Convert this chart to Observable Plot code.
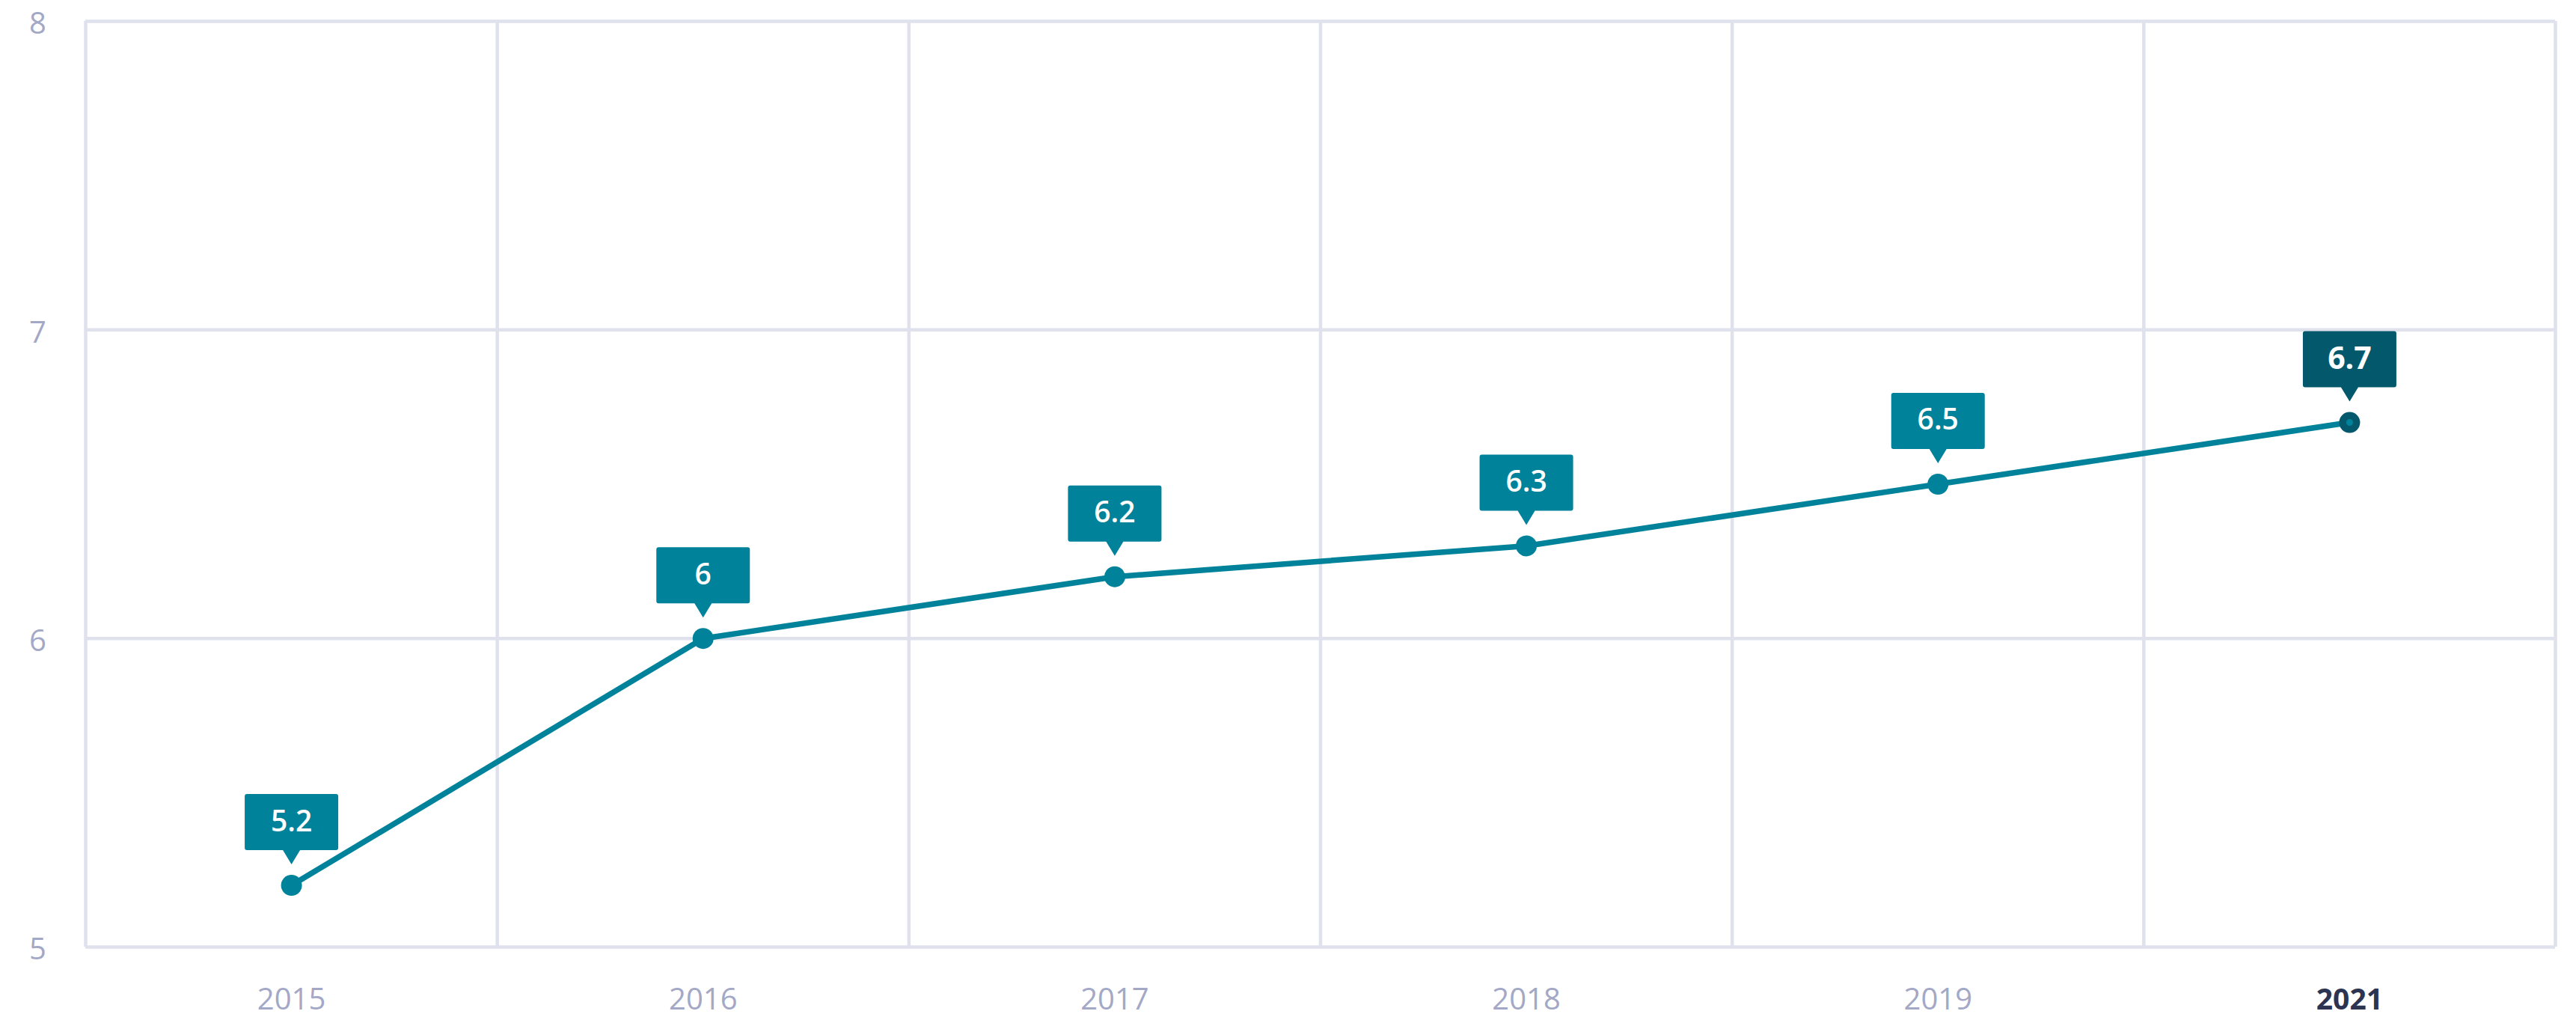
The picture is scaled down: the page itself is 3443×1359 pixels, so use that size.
<!DOCTYPE html>
<html>
<head>
<meta charset="utf-8">
<script src="https://cdn.jsdelivr.net/npm/d3@7"></script>
<script src="https://cdn.jsdelivr.net/npm/@observablehq/plot@0.6"></script>
<style>
  html, body { margin: 0; padding: 0; background: #ffffff; }
  #chart svg { display: block; font-family: "Open Sans", sans-serif; }
</style>
</head>
<body>
<div id="chart"></div>
<script>
const years = ["2015", "2016", "2017", "2018", "2019", "2021"];
const values = [5.2, 6, 6.2, 6.3, 6.5, 6.7];
const yTicks = [5, 6, 7, 8];
const highlightYear = "2021";

const TEAL = "#00829a";
const DARK = "#03596b";
const GRID = "#dfe1ec";
const LABEL = "#a3a8c6";

const data = years.map((year, i) => ({ i, year, value: values[i], hl: year === highlightYear }));
const boundaries = d3.range(-0.5, years.length, 1);

// callout shape drawn relative to the point
const callout = {
  draw(ctx) {
    const w = 62.5, top = -122, bot = -47, r = 3, tw = 11.5, tip = -28;
    ctx.moveTo(-w + r, top);
    ctx.lineTo(w - r, top);
    ctx.quadraticCurveTo(w, top, w, top + r);
    ctx.lineTo(w, bot - r);
    ctx.quadraticCurveTo(w, bot, w - r, bot);
    ctx.lineTo(tw, bot);
    ctx.lineTo(0, tip);
    ctx.lineTo(-tw, bot);
    ctx.lineTo(-w + r, bot);
    ctx.quadraticCurveTo(-w, bot, -w, bot - r);
    ctx.lineTo(-w, top + r);
    ctx.quadraticCurveTo(-w, top, -w + r, top);
    ctx.closePath();
  }
};

const chart = Plot.plot({
  width: 3443,
  height: 1359,
  marginLeft: 114,
  marginRight: 28,
  marginTop: 28,
  marginBottom: 94,
  x: { domain: [-0.5, years.length - 0.5], axis: null },
  y: { domain: [yTicks[0], yTicks[yTicks.length - 1]], axis: null },
  marks: [
    Plot.ruleY(yTicks, { stroke: GRID, strokeWidth: 4.5 }),
    Plot.ruleX(boundaries, { stroke: GRID, strokeWidth: 4.5 }),
    Plot.text(yTicks, { x: -0.5, y: d => d, dx: -64, dy: 4, text: d => String(d), fill: LABEL, fontSize: 40, textAnchor: "middle" }),
    Plot.text(data.filter(d => !d.hl), { x: "i", y: yTicks[0], dy: 71, text: "year", fill: LABEL, fontSize: 40 }),
    Plot.text(data.filter(d => d.hl), { x: "i", y: yTicks[0], dy: 71, text: "year", fill: "#2d3452", fontSize: 39, fontWeight: 700 }),
    Plot.line(data, { x: "i", y: "value", stroke: TEAL, strokeWidth: 7.5 }),
    Plot.dot(data.filter(d => !d.hl), { x: "i", y: "value", r: 14, fill: TEAL }),
    Plot.dot(data.filter(d => d.hl), { x: "i", y: "value", r: 14, fill: DARK }),
    Plot.dot(data.filter(d => d.hl), { x: "i", y: "value", r: 4.5, fill: TEAL }),
    Plot.dot(data.filter(d => !d.hl), { x: "i", y: "value", r: 14, symbol: callout, fill: TEAL }),
    Plot.dot(data.filter(d => d.hl), { x: "i", y: "value", r: 14, symbol: callout, fill: DARK }),
    Plot.text(data.filter(d => !d.hl), { x: "i", y: "value", dy: -85, text: d => String(d.value), fill: "white", fontSize: 39, fontWeight: 600 }),
    Plot.text(data.filter(d => d.hl), { x: "i", y: "value", dy: -85, text: d => String(d.value), fill: "white", fontSize: 41, fontWeight: 700 })
  ]
});
document.getElementById("chart").appendChild(chart);
</script>
</body>
</html>
